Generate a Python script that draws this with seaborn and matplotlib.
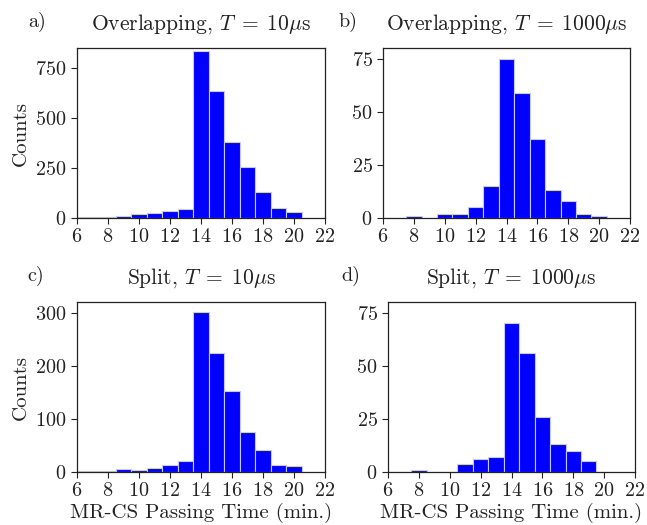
import matplotlib
matplotlib.use("Agg")
import matplotlib.pyplot as plt
import seaborn as sns
import pandas as pd

# Data: bin centres (minutes) and counts per panel
minutes = list(range(6, 21))
counts_overlap_10 = [4, 4, 7, 12, 20, 23, 37, 47, 833, 633, 380, 253, 130, 48, 28]
counts_overlap_1000 = [0, 0, 1, 0, 2, 2, 5, 15, 75, 59, 37, 13, 8, 2, 1]
counts_split_10 = [1, 1, 2, 5, 4, 7, 13, 20, 302, 224, 153, 76, 41, 13, 11]
counts_split_1000 = [0, 0, 1, 0, 0, 4, 6, 7, 70, 56, 26, 13, 10, 5, 0]

titles = [r"Overlapping, $T\;=\;10\mu$s", r"Overlapping, $T\;=\;1000\mu$s",
          r"Split, $T\;=\;10\mu$s", r"Split, $T\;=\;1000\mu$s"]
letters = ["a)", "b)", "c)", "d)"]
xticks = [6, 8, 10, 12, 14, 16, 18, 20, 22]
ylims = [850, 80, 320, 80]
yticks = [[0, 250, 500, 750], [0, 25, 50, 75], [0, 100, 200, 300], [0, 25, 50, 75]]

sns.set_style("ticks")
plt.rcParams.update({
    "font.family": "serif",
    "font.serif": ["cmr10"],
    "mathtext.fontset": "cm",
    "axes.formatter.use_mathtext": True,
    "axes.unicode_minus": False,
    "axes.edgecolor": "#222222",
    "xtick.color": "#222222",
    "ytick.color": "#222222",
    "text.color": "#222222",
    "axes.labelcolor": "#222222",
})

W, H = 647, 525
fig = plt.figure(figsize=(W / 100, H / 100), dpi=100)

# axes boxes in pixels: left, right, top, bottom
boxes = [(77, 325, 48, 218), (383, 630, 48, 218),
         (77, 325, 302, 472), (388, 635, 302, 472)]
letter_pos = [(28, 27), (338, 27), (27, 281), (341, 281)]

all_counts = [counts_overlap_10, counts_overlap_1000, counts_split_10, counts_split_1000]

for i, (l, r, t, b) in enumerate(boxes):
    ax = fig.add_axes([l / W, 1 - b / H, (r - l) / W, (b - t) / H])
    df = pd.DataFrame({"minutes": minutes, "count": all_counts[i]})
    sns.histplot(data=df, x="minutes", weights="count", discrete=True, ax=ax,
                 color="#0000ff", alpha=1.0, edgecolor="#c4c8ff", linewidth=0.8)
    ax.set_xlim(6, 22)
    ax.set_ylim(0, ylims[i])
    ax.set_xticks(xticks)
    ax.set_yticks(yticks[i])
    ax.tick_params(axis="both", labelsize=14.5, direction="out", length=4, width=0.8)
    ax.set_title(titles[i], fontsize=15.5, pad=13)
    ax.set_ylabel("Counts" if i % 2 == 0 else "", fontsize=15)
    ax.set_xlabel("MR-CS Passing Time (min.)" if i >= 2 else "", fontsize=15, labelpad=2)
    for s in ax.spines.values():
        s.set_linewidth(0.9)
    fig.text(letter_pos[i][0] / W, 1 - letter_pos[i][1] / H, letters[i], fontsize=14.5)

fig.savefig("out.png", dpi=100)
